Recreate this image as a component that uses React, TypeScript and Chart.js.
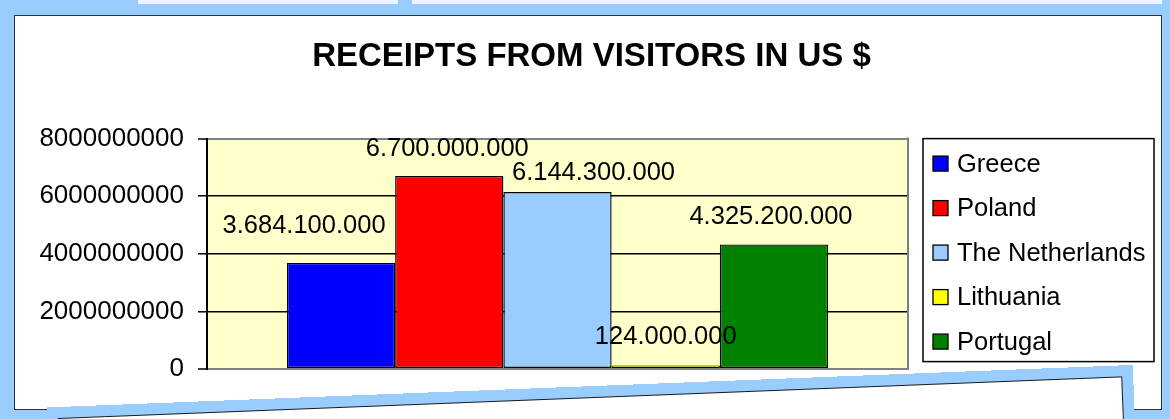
import React, { useEffect, useRef } from "react";
import { Chart, registerables } from "chart.js";

Chart.register(...registerables);

// ---- data ----
const categories = [""];
const countries = ["Greece", "Poland", "The Netherlands", "Lithuania", "Portugal"];
const receipts = [3684100000, 6700000000, 6144300000, 124000000, 4325200000];
const yTicks = [0, 2000000000, 4000000000, 6000000000, 8000000000];
const titleText = "RECEIPTS FROM VISITORS IN US $";

// ---- styles ----
const colors = ["#0000ff", "#ff0000", "#99ccff", "#ffff00", "#008000"];
const borderWidths = [1.4, 1.4, 1.4, 1, 1.4];
const labelShift = [
  [-37, -37],
  [-2, -27],
  [36, -19],
  [0, -28],
  [-3, -27],
];
const FONT = "'Liberation Sans', Arial, Helvetica, sans-serif";
const BLUE = "#99ccff";

const fmt = (v: number) => String(v).replace(/\B(?=(\d{3})+(?!\d))/g, ".");

const plotFrame = {
  id: "plotFrame",
  beforeDraw(chart: any) {
    const { ctx, chartArea: a } = chart;
    ctx.save();
    ctx.fillStyle = "#ffffcc";
    ctx.fillRect(a.left, a.top, a.right - a.left, a.bottom - a.top);
    ctx.restore();
  },
  afterDatasetsDraw(chart: any) {
    const { ctx, chartArea: a } = chart;
    ctx.save();
    ctx.strokeStyle = "#808080";
    ctx.lineWidth = 2;
    ctx.beginPath();
    ctx.moveTo(a.right, a.top - 1);
    ctx.lineTo(a.right, a.bottom + 1);
    ctx.stroke();
    ctx.restore();
  },
};

const valueLabels = {
  id: "valueLabels",
  afterDatasetsDraw(chart: any) {
    const { ctx } = chart;
    ctx.save();
    ctx.fillStyle = "#000";
    ctx.font = `25.5px ${FONT}`;
    ctx.textAlign = "center";
    ctx.textBaseline = "middle";
    chart.data.datasets.forEach((ds: any, i: number) => {
      const meta = chart.getDatasetMeta(i);
      meta.data.forEach((bar: any, j: number) => {
        const [dx, dy] = labelShift[i];
        ctx.fillText(fmt(ds.data[j]), bar.x + dx, bar.y + dy);
      });
    });
    ctx.restore();
  },
};

const boxLegend = {
  id: "boxLegend",
  afterDraw(chart: any) {
    const { ctx, chartArea: a } = chart;
    const x0 = a.right + 15;
    const y0 = a.top;
    const w = 231;
    const h = 223;
    ctx.save();
    ctx.fillStyle = "#fff";
    ctx.fillRect(x0, y0, w, h);
    ctx.strokeStyle = "#000";
    ctx.lineWidth = 1.5;
    ctx.strokeRect(x0, y0, w, h);
    ctx.font = `25.5px ${FONT}`;
    ctx.textBaseline = "middle";
    ctx.textAlign = "left";
    chart.data.datasets.forEach((ds: any, i: number) => {
      const cy = y0 + 25 + i * 44.5;
      ctx.fillStyle = ds.backgroundColor;
      ctx.fillRect(x0 + 10, cy - 7.5, 15, 15);
      ctx.lineWidth = 1.3;
      ctx.strokeStyle = "#000";
      ctx.strokeRect(x0 + 10, cy - 7.5, 15, 15);
      ctx.fillStyle = "#000";
      ctx.fillText(ds.label, x0 + 34, cy + 1);
    });
    ctx.restore();
  },
};

function ReceiptsChart() {
  const ref = useRef<HTMLCanvasElement | null>(null);
  useEffect(() => {
    if (!ref.current) return;
    const chart = new Chart(ref.current, {
      type: "bar",
      data: {
        labels: categories,
        datasets: countries.map((c, i) => ({
          label: c,
          data: [receipts[i]],
          backgroundColor: colors[i],
          borderColor: "#000",
          borderWidth: borderWidths[i],
          borderSkipped: false,
          categoryPercentage: 0.772,
          barPercentage: 1,
        })),
      },
      options: {
        animation: false,
        responsive: true,
        maintainAspectRatio: false,
        events: [],
        layout: { padding: { left: 0, right: 0, top: 0, bottom: 50 } },
        plugins: {
          legend: { display: false },
          tooltip: { enabled: false },
          title: {
            display: true,
            text: titleText,
            color: "#000",
            font: { family: FONT, size: 33, weight: "bold" },
            padding: { top: 37, bottom: 62 },
          },
        },
        scales: {
          x: { display: false },
          y: {
            min: 0,
            max: 8000000000,
            afterBuildTicks: (s: any) => {
              s.ticks = yTicks.map((v) => ({ value: v }));
            },
            afterFit: (s: any) => {
              s.width = 193;
            },
            border: { display: true, color: "#000", width: 2 },
            grid: {
              color: (c: any) =>
                c.tick && (c.tick.value === 0 || c.tick.value === 8000000000) ? "#808080" : "#000",
              lineWidth: (c: any) =>
                c.tick && (c.tick.value === 0 || c.tick.value === 8000000000) ? 2 : 1.6,
              tickColor: "#000",
              tickLength: 9,
              tickWidth: 1.5,
            },
            ticks: {
              color: "#000",
              padding: 14,
              font: { family: FONT, size: 26 },
              callback: (v: any) => String(v),
            },
          },
          legendSpace: {
            type: "linear",
            position: "right",
            display: true,
            grid: { display: false, drawTicks: false },
            border: { display: false },
            ticks: { display: false },
            afterFit: (s: any) => {
              s.width = 261;
            },
          },
        },
      },
      plugins: [plotFrame, valueLabels, boxLegend],
    } as any);
    return () => chart.destroy();
  }, []);
  return <canvas ref={ref} style={{ display: "block" }} />;
}

export default function App() {
  return (
    <div
      style={{
        position: "fixed",
        left: 0,
        top: 0,
        width: 1170,
        height: 419,
        overflow: "hidden",
        background: BLUE,
      }}
    >
      <div style={{ position: "absolute", left: 138, top: 0, width: 260, height: 4, background: "#eef5fe" }} />
      <div style={{ position: "absolute", left: 412, top: 0, width: 750, height: 4, background: "#eef5fe" }} />
      <div
        style={{
          position: "absolute",
          left: 14,
          top: 15,
          width: 1148,
          height: 395,
          boxSizing: "border-box",
          background: "#fff",
          border: "1.5px solid #2a3340",
        }}
      />
      <div style={{ position: "absolute", left: 14, top: 0, width: 1155, height: 419, zIndex: 1 }}>
        <ReceiptsChart />
      </div>
      <div
        style={{
          position: "absolute",
          left: 58,
          top: 417.6,
          width: 1065,
          height: 200,
          boxSizing: "border-box",
          background: "#fff",
          border: "1.5px solid #1a1a1a",
          boxShadow: `0 0 0 11px ${BLUE}`,
          transformOrigin: "0 0",
          transform: "rotate(-2.24deg)",
          zIndex: 2,
        }}
      />
    </div>
  );
}
